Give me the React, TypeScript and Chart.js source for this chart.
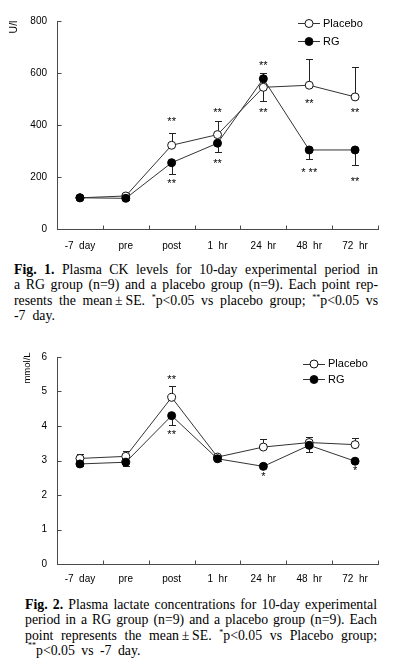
import React, { useEffect, useRef } from "react";
import { Chart, registerables } from "chart.js";

Chart.register(...registerables);

// ---------- data ----------
const categories = ["-7  day", "pre", "post", "1  hr", "24  hr", "48  hr", "72  hr"];

// Fig 1: plasma CK (U/l)
const ckPlacebo = [120, 127, 322, 363, 545, 553, 508];
const ckRG = [120, 118, 255, 330, 578, 304, 304];
const ckPlaceboSE = [4, 12, 48, 52, 53, 100, 114];
const ckRGSE = [4, 8, 43, 35, 21, 36, 57];
const ckPlaceboDir = [1, 1, 1, 1, -1, 1, 1];
const ckRGDir = [-1, -1, -1, -1, 1, -1, -1];
const ckTicks = [0, 200, 400, 600, 800];
const ckMarkCats = [2, 3, 4, 4, 5, 6, 2, 3, 5, 6];
const ckMarkValues = [423, 458, 638, 458, 492, 458, 185, 263, 227, 193];
const ckMarkTexts = ["**", "**", "**", "**", "**", "**", "**", "**", "* **", "**"];

// Fig 2: plasma lactate (mmol/L)
const lacPlacebo = [3.06, 3.12, 4.83, 3.1, 3.39, 3.52, 3.46];
const lacRG = [2.9, 2.95, 4.3, 3.05, 2.83, 3.44, 2.98];
const lacPlaceboSE = [0.12, 0.15, 0.32, 0.07, 0.24, 0.17, 0.19];
const lacRGSE = [0.07, 0.1, 0.28, 0.05, 0.04, 0.2, 0.03];
const lacPlaceboDir = [1, 1, 1, 1, 1, 1, 1];
const lacRGDir = [-1, -1, -1, -1, -1, -1, -1];
const lacTicks = [0, 1, 2, 3, 4, 5, 6];
const lacMarkCats = [2, 2, 4, 6];
const lacMarkValues = [5.41, 3.82, 2.62, 2.77];
const lacMarkTexts = ["**", "**", "*", "*"];

const SANS = '"Liberation Sans", Arial, Helvetica, sans-serif';
const SERIF = '"Liberation Serif", "Times New Roman", Times, serif';
const LINE = "#333";
const AXIS = "#4a4a4a";

type Spec = {
  placebo: number[];
  rg: number[];
  placeboSE: number[];
  rgSE: number[];
  placeboDir: number[];
  rgDir: number[];
  ticks: number[];
  markCats: number[];
  markValues: number[];
  markTexts: string[];
  yTitle: string;
  yTitleFont: number;
  yTitleX: number;
  yTitleY: number;
  legendX: number;
  legendY: number;
  legendGap: number;
  legendTextX: number;
  width: number;
  height: number;
  padTop: number;
  padRight: number;
  yAxisWidth: number;
  xAxisHeight: number;
  xLabelPad: number;
};

function makeExtras(spec: Spec) {
  return {
    id: "extras",
    beforeDatasetsDraw(chart: any) {
      const ctx = chart.ctx;
      const xs = chart.scales.x;
      const ys = chart.scales.y;
      ctx.save();
      ctx.strokeStyle = "#222";
      ctx.lineWidth = 1;
      const groups = [
        [spec.placebo, spec.placeboSE, spec.placeboDir],
        [spec.rg, spec.rgSE, spec.rgDir],
      ];
      groups.forEach(([vals, se, dir]) => {
        vals.forEach((v: number, i: number) => {
          const px = Math.round(xs.getPixelForValue(i)) + 0.5;
          const y0 = ys.getPixelForValue(v);
          const y1 = Math.round(ys.getPixelForValue(v + dir[i] * se[i])) + 0.5;
          ctx.beginPath();
          ctx.moveTo(px, y0);
          ctx.lineTo(px, y1);
          ctx.moveTo(px - 3.5, y1);
          ctx.lineTo(px + 3.5, y1);
          ctx.stroke();
        });
      });
      ctx.restore();
    },
    afterDraw(chart: any) {
      const ctx = chart.ctx;
      const xs = chart.scales.x;
      const ys = chart.scales.y;
      const area = chart.chartArea;
      ctx.save();
      // inward tick marks
      ctx.strokeStyle = AXIS;
      ctx.lineWidth = 1;
      ctx.beginPath();
      spec.ticks.forEach((t) => {
        const py = Math.round(ys.getPixelForValue(t)) + 0.5;
        const lx = Math.round(area.left) + 0.5;
        ctx.moveTo(lx, py);
        ctx.lineTo(lx + 4, py);
      });
      const n = categories.length;
      const by = Math.round(area.bottom) + 0.5;
      for (let i = 0; i <= n; i++) {
        const px = Math.round(area.left + ((area.right - area.left) * i) / n) + 0.5;
        ctx.moveTo(px, by);
        ctx.lineTo(px, by - 4);
      }
      ctx.stroke();

      // significance marks
      ctx.fillStyle = "#000";
      ctx.font = `11px ${SANS}`;
      ctx.textAlign = "center";
      ctx.textBaseline = "alphabetic";
      spec.markTexts.forEach((txt, k) => {
        const px = xs.getPixelForValue(spec.markCats[k]);
        const py = ys.getPixelForValue(spec.markValues[k]);
        ctx.fillText(txt, px, py + 6);
      });

      // legend
      const rows = [
        { label: "Placebo", fill: "#fff" },
        { label: "RG", fill: "#000" },
      ];
      rows.forEach((r, k) => {
        const cy = spec.legendY + k * spec.legendGap;
        const x0 = spec.legendX;
        ctx.strokeStyle = LINE;
        ctx.beginPath();
        ctx.moveTo(x0, Math.round(cy) + 0.5);
        ctx.lineTo(x0 + 22, Math.round(cy) + 0.5);
        ctx.stroke();
        ctx.beginPath();
        ctx.arc(x0 + 11, cy + 0.5, 4, 0, Math.PI * 2);
        ctx.fillStyle = r.fill;
        ctx.fill();
        ctx.strokeStyle = "#111";
        ctx.stroke();
        ctx.fillStyle = "#000";
        ctx.font = `11px ${SANS}`;
        ctx.textAlign = "left";
        ctx.textBaseline = "middle";
        ctx.fillText(r.label, spec.legendTextX, cy + 0.5);
      });

      // y title
      ctx.translate(spec.yTitleX, spec.yTitleY);
      ctx.rotate(-Math.PI / 2);
      ctx.font = `${spec.yTitleFont}px ${SANS}`;
      ctx.textAlign = "center";
      ctx.textBaseline = "middle";
      ctx.fillStyle = "#000";
      ctx.fillText(spec.yTitle, 0, 0);
      ctx.restore();
    },
  };
}

function LineChart({ spec, top }: { spec: Spec; top: number }) {
  const ref = useRef<HTMLCanvasElement | null>(null);
  useEffect(() => {
    if (!ref.current) return;
    const ticks = spec.ticks;
    const chart = new Chart(ref.current, {
      type: "line",
      data: {
        labels: categories,
        datasets: [
          {
            label: "Placebo",
            data: spec.placebo,
            borderColor: LINE,
            borderWidth: 1,
            pointRadius: 4,
            pointBorderWidth: 1,
            pointBackgroundColor: "#fff",
            pointBorderColor: "#111",
            tension: 0,
            fill: false,
            order: 1,
          },
          {
            label: "RG",
            data: spec.rg,
            borderColor: LINE,
            borderWidth: 1,
            pointRadius: 4,
            pointBorderWidth: 1,
            pointBackgroundColor: "#000",
            pointBorderColor: "#000",
            tension: 0,
            fill: false,
            order: 0,
          },
        ],
      },
      options: {
        responsive: false,
        animation: false,
        events: [],
        devicePixelRatio: 1,
        layout: { padding: { top: spec.padTop, right: spec.padRight, left: 0, bottom: 0 } },
        plugins: { legend: { display: false }, tooltip: { enabled: false } },
        scales: {
          x: {
            type: "category",
            offset: true,
            grid: { display: true, drawOnChartArea: false, drawTicks: false, offset: true },
            border: { display: true, color: AXIS, width: 1 },
            ticks: {
              autoSkip: false,
              maxRotation: 0,
              minRotation: 0,
              padding: spec.xLabelPad,
              color: "#000",
              font: { family: SANS, size: 10 },
            },
            afterFit: (s: any) => {
              s.height = spec.xAxisHeight;
            },
          },
          y: {
            type: "linear",
            min: ticks[0],
            max: ticks[ticks.length - 1],
            grid: { display: true, drawOnChartArea: false, drawTicks: false },
            border: { display: true, color: AXIS, width: 1 },
            ticks: {
              padding: 10,
              color: "#000",
              font: { family: SANS, size: 10 },
            },
            afterBuildTicks: (s: any) => {
              s.ticks = ticks.map((v) => ({ value: v }));
            },
            afterFit: (s: any) => {
              s.width = spec.yAxisWidth;
            },
          },
        },
      } as any,
      plugins: [makeExtras(spec)],
    });
    return () => chart.destroy();
  }, [spec]);
  return (
    <canvas
      ref={ref}
      width={spec.width}
      height={spec.height}
      style={{ position: "absolute", left: 0, top, width: spec.width, height: spec.height }}
    />
  );
}

const spec1: Spec = {
  placebo: ckPlacebo,
  rg: ckRG,
  placeboSE: ckPlaceboSE,
  rgSE: ckRGSE,
  placeboDir: ckPlaceboDir,
  rgDir: ckRGDir,
  ticks: ckTicks,
  markCats: ckMarkCats,
  markValues: ckMarkValues,
  markTexts: ckMarkTexts,
  yTitle: "U/l",
  yTitleFont: 10.5,
  yTitleX: 14,
  yTitleY: 27,
  legendX: 298,
  legendY: 23,
  legendGap: 18,
  legendTextX: 323,
  width: 395,
  height: 252,
  padTop: 21,
  padRight: 17,
  yAxisWidth: 57,
  xAxisHeight: 23,
  xLabelPad: 11,
};

const spec2: Spec = {
  placebo: lacPlacebo,
  rg: lacRG,
  placeboSE: lacPlaceboSE,
  rgSE: lacRGSE,
  placeboDir: lacPlaceboDir,
  rgDir: lacRGDir,
  ticks: lacTicks,
  markCats: lacMarkCats,
  markValues: lacMarkValues,
  markTexts: lacMarkTexts,
  yTitle: "mmol/L",
  yTitleFont: 9.5,
  yTitleX: 27.5,
  yTitleY: 32,
  legendX: 303,
  legendY: 27.5,
  legendGap: 15.5,
  legendTextX: 328,
  width: 395,
  height: 255,
  padTop: 21,
  padRight: 17,
  yAxisWidth: 57,
  xAxisHeight: 27,
  xLabelPad: 9,
};

const lineStyle: React.CSSProperties = {
  display: "block",
  textAlign: "justify",
  textAlignLast: "justify",
  whiteSpace: "nowrap",
  height: 15.3,
};
const lastLine: React.CSSProperties = { display: "block", whiteSpace: "pre", height: 15.3 };
const sup: React.CSSProperties = { fontSize: 8, position: "relative", top: -5 };

function Captions() {
  const base: React.CSSProperties = {
    position: "absolute",
    fontFamily: SERIF,
    fontSize: 13.8,
    lineHeight: "15.3px",
    color: "#000",
  };
  return (
    <>
      <div style={{ ...base, left: 14, top: 262, width: 364 }}>
        <div style={lineStyle}>
          <b>Fig. 1.</b> Plasma CK levels for 10-day experimental period in
        </div>
        <div style={lineStyle}>
          a RG group (n=9) and a placebo group (n=9). Each point rep-
        </div>
        <div style={lineStyle}>
          resents the mean{"\u2009±\u2009"}SE. <span style={sup}>*</span>p&lt;0.05 vs placebo group;{" "}
          <span style={sup}>**</span>p&lt;0.05 vs
        </div>
        <div style={lastLine}>{"-7  day."}</div>
      </div>
      <div style={{ ...base, left: 25, top: 597, width: 352 }}>
        <div style={lineStyle}>
          <b>Fig. 2.</b> Plasma lactate concentrations for 10-day experimental
        </div>
        <div style={lineStyle}>
          period in a RG group (n=9) and a placebo group (n=9). Each
        </div>
        <div style={lineStyle}>
          point represents the mean{"\u2009±\u2009"}SE. <span style={sup}>*</span>p&lt;0.05 vs Placebo group;
        </div>
        <div style={{ ...lastLine, wordSpacing: 3 }}>
          <span style={{ ...sup, top: -7, marginLeft: 3 }}>**</span>p&lt;0.05 vs -7 day.
        </div>
      </div>
    </>
  );
}

export default function App() {
  return (
    <div
      style={{
        position: "absolute",
        left: 0,
        top: 0,
        width: 395,
        height: 670,
        background: "#fff",
        overflow: "hidden",
      }}
    >
      <LineChart spec={spec1} top={0} />
      <LineChart spec={spec2} top={336} />
      <Captions />
    </div>
  );
}
